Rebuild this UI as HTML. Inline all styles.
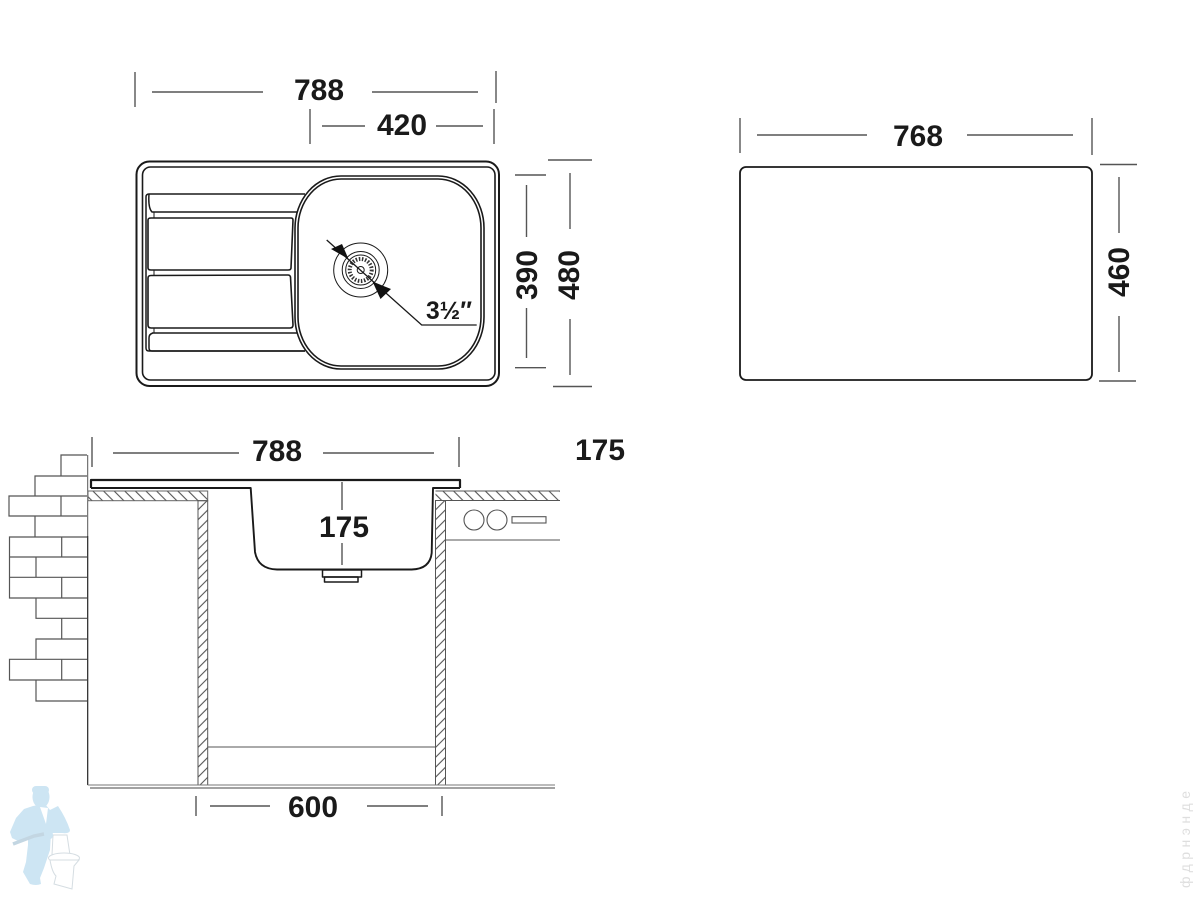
<!DOCTYPE html>
<html><head><meta charset="utf-8"><style>
html,body{margin:0;padding:0;background:#fff;width:1200px;height:900px;overflow:hidden}
svg{display:block}
text{font-family:"Liberation Sans",sans-serif;font-weight:bold;fill:#1a1a1a;font-size:30px}
</style></head><body>
<svg width="1200" height="900" viewBox="0 0 1200 900" xmlns="http://www.w3.org/2000/svg">
<defs>
<pattern id="hb" width="7.500" height="7.500" patternUnits="userSpaceOnUse" patternTransform="rotate(-45)"><line x1="3.500" y1="0" x2="3.500" y2="7.500" stroke="#555" stroke-width="1.100"/></pattern>
<pattern id="hf" width="7" height="7" patternUnits="userSpaceOnUse" patternTransform="rotate(45)"><line x1="3.500" y1="0" x2="3.500" y2="7" stroke="#555" stroke-width="1.100"/></pattern>
</defs>
<rect width="1200" height="900" fill="#fff"/>

<!-- dimensions -->
<g stroke="#555" stroke-width="1.400" fill="none">
<path d="M135 72V107M496 71V103M152 92H263M372 92H478"/>
<path d="M310 109V144M494 109V144M322 126H365M436 126H483"/>
<path d="M515 175H546M515 367.700H546M526.500 185V237M526.500 308V358"/>
<path d="M548 160H592M553 386.500H592M570 173V229M570 319V375"/>
<path d="M740 118V153M1092 118V155M757 135H867M967 135H1073"/>
<path d="M1100 164.500H1137M1099 381H1136M1119 177V233M1119 316V372"/>
<path d="M92 437V467M459 437V467M113 453H239M323 453H434"/>
<path d="M342 482V510M342 543V565"/>
<path d="M196 796V816M442 796V816M210 806H270M367 806H428"/>
</g>
<text x="294" y="100" textLength="50" lengthAdjust="spacingAndGlyphs">788</text>
<text x="377" y="135" textLength="50" lengthAdjust="spacingAndGlyphs">420</text>
<text x="893" y="146" textLength="50" lengthAdjust="spacingAndGlyphs">768</text>
<text transform="translate(537 300) rotate(-90)" textLength="50" lengthAdjust="spacingAndGlyphs">390</text>
<text transform="translate(579 300) rotate(-90)" textLength="50" lengthAdjust="spacingAndGlyphs">480</text>
<text transform="translate(1129 297) rotate(-90)" textLength="50" lengthAdjust="spacingAndGlyphs">460</text>
<text x="252" y="461" textLength="50" lengthAdjust="spacingAndGlyphs">788</text>
<text x="575" y="460" textLength="50" lengthAdjust="spacingAndGlyphs">175</text>
<text x="319" y="537" textLength="50" lengthAdjust="spacingAndGlyphs">175</text>
<text x="288" y="817" textLength="50" lengthAdjust="spacingAndGlyphs">600</text>

<!-- sink top view -->
<g fill="none" stroke="#1a1a1a">
<rect x="136.500" y="161.500" width="362.500" height="224.500" rx="13" stroke-width="2"/>
<rect x="142.500" y="167" width="352.500" height="213" rx="8" stroke-width="1.600"/>
<path d="M305 194H149Q146 194 146 197V348Q146 351 149 351H305" stroke-width="1.500"/>
<path d="M149 194Q148 208 152 212H297" stroke-width="1.500"/>
<path d="M152 333H297M153 333Q149 334 149 338V348Q149 351 152 351H305" stroke-width="1.500"/>
<path d="M154 212V218M154 270V275M154 328V333" stroke-width="1"/>
<path d="M151 218H291Q293 218 293 220L291 268Q291 270 288 270H151Q148 270 148 268V220Q148 218 151 218Z" stroke-width="1.600"/>
<path d="M151 275.500L288 275Q290 275 290.500 277L293 325Q293 328 290 328H151Q148 328 148 325V278Q148 275.500 151 275.500Z" stroke-width="1.600"/>
<rect x="295" y="176" width="189" height="193" rx="46" ry="52" stroke-width="1.600" fill="#fff"/>
<rect x="298" y="179" width="183" height="187" rx="43" ry="49" stroke-width="1.600"/>
<circle cx="360.700" cy="270" r="27" stroke-width="1"/>
<circle cx="360.700" cy="270" r="18.500" stroke-width="1"/>
<circle cx="360.700" cy="270" r="15" stroke-width="1"/>
<circle cx="360.700" cy="270" r="11" stroke-width="4" stroke-dasharray="1.500 1.600" stroke="#333"/>
<circle cx="360.700" cy="270" r="3.500" stroke-width="1"/>
<path d="M326.700 240L421.700 325H476.700" stroke-width="1.300"/>
</g>
<polygon points="348.500,259 331,249 342,244" fill="#111"/>
<polygon points="372.500,281.500 380.500,299 391,289" fill="#111"/>
<text x="426" y="319" style="font-size:25px" textLength="46" lengthAdjust="spacingAndGlyphs">3½″</text>

<!-- right rectangle -->
<rect x="740" y="167" width="352" height="213" rx="6" fill="none" stroke="#1a1a1a" stroke-width="1.800"/>

<!-- bricks -->
<g fill="none" stroke="#555" stroke-width="1.200">
<path d="M87 455H61V476M87 476H35V496M87 496H9V516H87M61 496V516M35 516V537M87 537H9.500V557H87M61.700 537V557M9.500 557V577.300H87M36 557V577.300M9.500 577.300V598H87M61.700 577.300V598M36 598V618.300H87M61.700 618.300V639M87 639H36V659.300M87 659.300H9.500V680H87M61.700 659.300V680M36 680V701H87"/>
<path d="M87.700 455V536" stroke-width="1"/>
<path d="M87.700 536V785" stroke="#222" stroke-width="1.200"/>
</g>

<!-- hatched counter and walls -->
<rect x="88" y="491" width="119.700" height="9.700" fill="url(#hb)" stroke="#666" stroke-width="1"/>
<rect x="198" y="500.700" width="9.700" height="284.300" fill="url(#hf)" stroke="#555" stroke-width="1"/>
<rect x="435.500" y="491" width="124.500" height="9.500" fill="url(#hb)"/>
<path d="M435.500 491H560M435.500 500.500H560" stroke="#555" stroke-width="1" fill="none"/>
<rect x="435.500" y="500.500" width="10" height="284.500" fill="url(#hf)" stroke="#555" stroke-width="1"/>

<!-- sink section -->
<g fill="none" stroke="#1a1a1a" stroke-linejoin="round">
<path d="M91 488V480H460V488" stroke-width="2.200"/>
<path d="M91 488H250.700L255 552Q258 569 277 569.500H411.700Q430 569 431.700 553L433 488H460" stroke-width="1.900"/>
<rect x="322.500" y="570" width="39" height="7" stroke-width="1.500"/>
<rect x="324.500" y="577" width="33.500" height="5" stroke-width="1.500"/>
</g>
<g fill="none" stroke="#555" stroke-width="1.100">
<path d="M446 540H560"/>
<circle cx="474" cy="520" r="10"/>
<circle cx="497" cy="520" r="10"/>
<rect x="512" y="516.700" width="34" height="6.300"/>
<path d="M208 747H435"/>
<path d="M87.700 785H555" stroke="#777"/>
<path d="M90 788H555" stroke="#444"/>
</g>

<!-- plumber logo -->
<g fill="#cde5f3">
<path d="M33 806L45 804L50 810L58 806Q66 818 70 830Q70 834 62 833L51 833L50 850L44 868L40 878L41 884Q36 886 30 884L23 872L26 862L28 845L28 838L20 842L12 838L10 832L16 818L24 809Z"/>
<ellipse cx="41" cy="797" rx="8.500" ry="11"/>
<rect x="32" y="786" width="17" height="8" rx="4"/>
</g>
<path d="M40 807L46 824L48 808Z" fill="#fff"/>
<path d="M13 844L34 836L44 834" fill="none" stroke="#c3d6e2" stroke-width="3.500"/>
<g fill="#fff" stroke="#d5dde2" stroke-width="1">
<path d="M53 835H67L70 855H52Z"/>
<ellipse cx="64" cy="858" rx="15.500" ry="5"/>
<path d="M50 860Q52 872 56 876L54 884L72 889L74 866L79 860Z"/>
</g>
<ellipse cx="50" cy="835" rx="3" ry="4" fill="#cde5f3"/>

<!-- watermark -->
<text transform="translate(1190 888) rotate(-90)" style="font-size:14px;font-weight:normal;fill:#dedede" textLength="97" lengthAdjust="spacing">фдрнэнде</text>
</svg>
</body></html>
